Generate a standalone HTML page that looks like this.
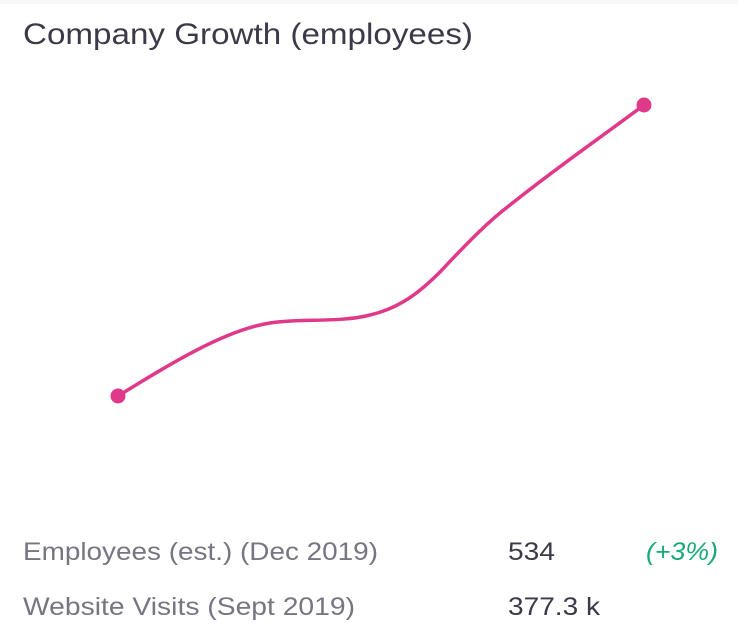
<!DOCTYPE html>
<html><head><style>
html,body{margin:0;padding:0;background:#fff;}
svg{display:block;}
text{font-family:"Liberation Sans",sans-serif;}
</style></head><body>
<svg width="738" height="632" viewBox="0 0 738 632" xmlns="http://www.w3.org/2000/svg">
<rect x="0" y="0" width="738" height="632" fill="#fff"/>
<rect x="0" y="0" width="738" height="4" fill="#f7f7f8"/>
<text x="23" y="44" font-size="30" fill="#3a3a48" textLength="450" lengthAdjust="spacingAndGlyphs">Company Growth (employees)</text>
<path d="M118,396 C170,364 225,330 270,323 C300,318 340,323 370,315 C400,308 420,292 440,272 C470,240 490,220 510,205 C560,165 600,138 644,105" fill="none" stroke="#e0398a" stroke-width="3.5" stroke-linecap="round"/>
<circle cx="118" cy="396" r="7.5" fill="#e0398a"/>
<circle cx="644" cy="105" r="7.5" fill="#e0398a"/>
<text x="23" y="560" font-size="25" fill="#767682" textLength="355" lengthAdjust="spacingAndGlyphs">Employees (est.) (Dec 2019)</text>
<text x="508" y="560" font-size="25" fill="#3a3a48" textLength="47" lengthAdjust="spacingAndGlyphs">534</text>
<text x="646" y="560" font-size="25" font-style="italic" fill="#1aaa77" textLength="72" lengthAdjust="spacingAndGlyphs">(+3%)</text>
<text x="23" y="615" font-size="25" fill="#767682" textLength="332" lengthAdjust="spacingAndGlyphs">Website Visits (Sept 2019)</text>
<text x="508" y="615" font-size="25" fill="#3a3a48" textLength="92" lengthAdjust="spacingAndGlyphs">377.3 k</text>
</svg>
</body></html>
